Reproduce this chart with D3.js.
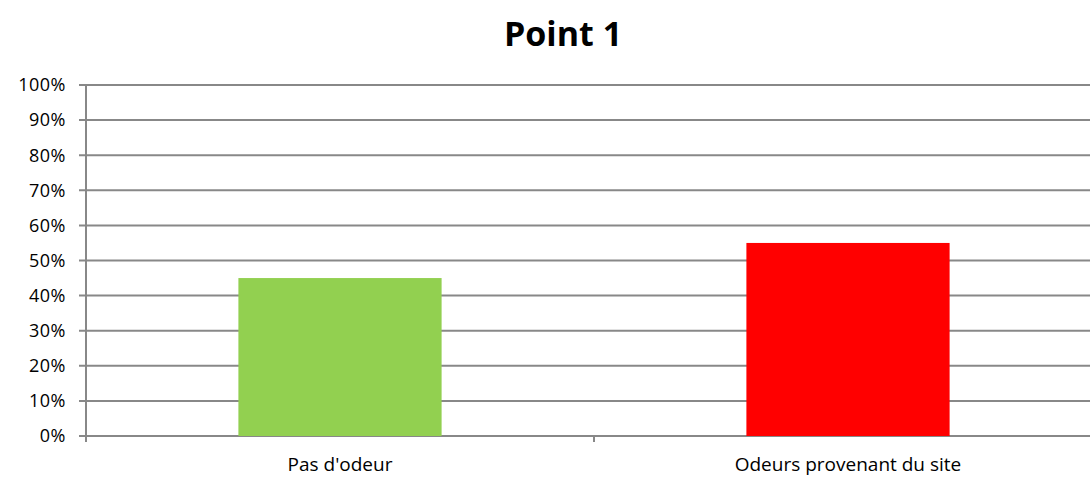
<!doctype html>
<html lang="fr">
<head>
  <meta charset="utf-8">
  <title>Point 1</title>
  <script src="https://cdn.jsdelivr.net/npm/d3@7"></script>
  <style>
    body{margin:0;background:#fff}
    text{font-family:"Open Sans",sans-serif;fill:#000}
  </style>
</head>
<body>
<div id="chart"></div>
<script>
var categories = ["Pas d'odeur", "Odeurs provenant du site"];
var values = [0.45, 0.55];
var colors = ["#92d050", "#ff0000"];
var yTicks = [0, 0.1, 0.2, 0.3, 0.4, 0.5, 0.6, 0.7, 0.8, 0.9, 1];

var W = 1090, H = 478;
var svg = d3.select("#chart").append("svg").attr("width", W).attr("height", H);

var x = d3.scaleBand().domain(categories).range([86, 1102]).paddingInner(0.6).paddingOuter(0.3);
var xb = d3.scaleBand().domain(categories).range([86, 1102]);
var y = d3.scaleLinear().domain([0, 1]).range([436, 85]);

// gridlines
svg.append("g").selectAll("line").data(yTicks).enter().append("line")
  .attr("x1", 79).attr("x2", W)
  .attr("y1", function (d) { return y(d); }).attr("y2", function (d) { return y(d); })
  .attr("stroke", "#888").attr("stroke-width", 2);

// y axis line
svg.append("line").attr("x1", 86).attr("x2", 86).attr("y1", y(1)).attr("y2", y(0) + 6)
  .attr("stroke", "#888").attr("stroke-width", 2);

// x ticks at band boundaries
svg.append("g").selectAll("line").data(categories).enter().append("line")
  .attr("x1", function (d) { return xb(d) + xb.bandwidth(); })
  .attr("x2", function (d) { return xb(d) + xb.bandwidth(); })
  .attr("y1", y(0)).attr("y2", y(0) + 6)
  .attr("stroke", "#888").attr("stroke-width", 2);

// bars
svg.append("g").selectAll("rect").data(values).enter().append("rect")
  .attr("x", function (d, i) { return x(categories[i]); })
  .attr("width", x.bandwidth())
  .attr("y", function (d) { return y(d); })
  .attr("height", function (d) { return y(0) - y(d); })
  .attr("fill", function (d, i) { return colors[i]; });

// y labels
svg.append("g").selectAll("text").data(yTicks).enter().append("text")
  .attr("x", 66).attr("y", function (d) { return y(d); }).attr("dy", "0.35em")
  .attr("text-anchor", "end").style("font-size", "18px").style("letter-spacing", "0.5px")
  .text(d3.format(".0%"));

// x labels
svg.append("g").selectAll("text").data(categories).enter().append("text")
  .attr("x", function (d) { return xb(d) + xb.bandwidth() / 2; }).attr("y", 471)
  .attr("text-anchor", "middle").style("font-size", "19px")
  .text(function (d) { return d; });

svg.append("text").attr("x", 563).attr("y", 46).attr("text-anchor", "middle")
  .style("font-size", "34px").style("font-weight", "bold").text("Point 1");
</script>
</body>
</html>
